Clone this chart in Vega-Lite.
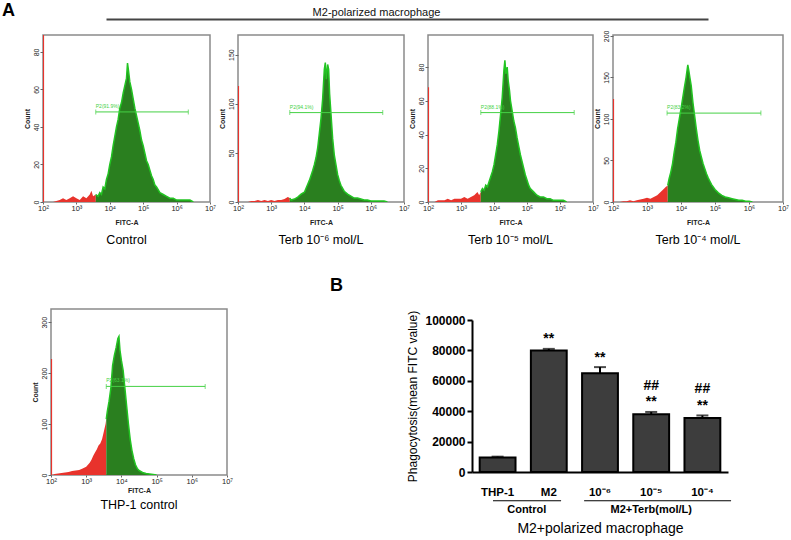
{
"$schema":"https://vega.github.io/schema/vega-lite/v6.json",
"background":"white",
"padding":{"left":2,"top":2,"right":0,"bottom":0},
"config":{"font":"Liberation Sans","view":{"stroke":null},"title":{"color":"#000"},"axis":{"labelColor":"#222","titleColor":"#222","labelOverlap":false},"area":{"opacity":1,"fillOpacity":1}},
"datasets":{
"hist":[
{"panel":"c","gate":"out","x":2.3,"n":0},{"panel":"c","gate":"out","x":2.5,"n":1},{"panel":"c","gate":"out","x":2.6,"n":2},{"panel":"c","gate":"out","x":2.7,"n":1},{"panel":"c","gate":"out","x":2.8,"n":2},{"panel":"c","gate":"out","x":2.9,"n":3},{"panel":"c","gate":"out","x":3.0,"n":2},{"panel":"c","gate":"out","x":3.1,"n":1},{"panel":"c","gate":"out","x":3.2,"n":3},{"panel":"c","gate":"out","x":3.3,"n":2},{"panel":"c","gate":"out","x":3.4,"n":4},{"panel":"c","gate":"out","x":3.45,"n":6},{"panel":"c","gate":"out","x":3.5,"n":3},{"panel":"c","gate":"out","x":3.58,"n":4},
{"panel":"c","gate":"in","x":3.58,"n":4},{"panel":"c","gate":"in","x":3.65,"n":3},{"panel":"c","gate":"in","x":3.7,"n":5},{"panel":"c","gate":"in","x":3.75,"n":4},{"panel":"c","gate":"in","x":3.8,"n":8},{"panel":"c","gate":"in","x":3.85,"n":7},{"panel":"c","gate":"in","x":3.9,"n":12},{"panel":"c","gate":"in","x":3.95,"n":15},{"panel":"c","gate":"in","x":4.0,"n":20},{"panel":"c","gate":"in","x":4.05,"n":24},{"panel":"c","gate":"in","x":4.1,"n":30},{"panel":"c","gate":"in","x":4.15,"n":35},{"panel":"c","gate":"in","x":4.2,"n":40},{"panel":"c","gate":"in","x":4.25,"n":44},{"panel":"c","gate":"in","x":4.3,"n":50},{"panel":"c","gate":"in","x":4.35,"n":53},{"panel":"c","gate":"in","x":4.4,"n":58},{"panel":"c","gate":"in","x":4.45,"n":62},{"panel":"c","gate":"in","x":4.5,"n":66},{"panel":"c","gate":"in","x":4.53,"n":74},{"panel":"c","gate":"in","x":4.56,"n":70},{"panel":"c","gate":"in","x":4.6,"n":64},{"panel":"c","gate":"in","x":4.65,"n":60},{"panel":"c","gate":"in","x":4.7,"n":55},{"panel":"c","gate":"in","x":4.75,"n":50},{"panel":"c","gate":"in","x":4.8,"n":46},{"panel":"c","gate":"in","x":4.85,"n":42},{"panel":"c","gate":"in","x":4.9,"n":38},{"panel":"c","gate":"in","x":4.95,"n":33},{"panel":"c","gate":"in","x":5.0,"n":30},{"panel":"c","gate":"in","x":5.05,"n":26},{"panel":"c","gate":"in","x":5.1,"n":22},{"panel":"c","gate":"in","x":5.15,"n":20},{"panel":"c","gate":"in","x":5.2,"n":17},{"panel":"c","gate":"in","x":5.25,"n":14},{"panel":"c","gate":"in","x":5.3,"n":12},{"panel":"c","gate":"in","x":5.35,"n":9},{"panel":"c","gate":"in","x":5.4,"n":8},{"panel":"c","gate":"in","x":5.5,"n":5},{"panel":"c","gate":"in","x":5.6,"n":4},{"panel":"c","gate":"in","x":5.7,"n":3},{"panel":"c","gate":"in","x":5.8,"n":2},{"panel":"c","gate":"in","x":5.9,"n":2},{"panel":"c","gate":"in","x":6.0,"n":1},{"panel":"c","gate":"in","x":6.2,"n":1},{"panel":"c","gate":"in","x":6.4,"n":1},{"panel":"c","gate":"in","x":6.5,"n":0},
{"panel":"t6","gate":"out","x":2.3,"n":0},{"panel":"t6","gate":"out","x":2.4,"n":1},{"panel":"t6","gate":"out","x":2.5,"n":1},{"panel":"t6","gate":"out","x":2.6,"n":2},{"panel":"t6","gate":"out","x":2.7,"n":1},{"panel":"t6","gate":"out","x":2.8,"n":2},{"panel":"t6","gate":"out","x":2.9,"n":1},{"panel":"t6","gate":"out","x":3.0,"n":2},{"panel":"t6","gate":"out","x":3.1,"n":1},{"panel":"t6","gate":"out","x":3.2,"n":2},{"panel":"t6","gate":"out","x":3.3,"n":2},{"panel":"t6","gate":"out","x":3.4,"n":3},{"panel":"t6","gate":"out","x":3.5,"n":5},{"panel":"t6","gate":"out","x":3.56,"n":4},
{"panel":"t6","gate":"in","x":3.56,"n":4},{"panel":"t6","gate":"in","x":3.6,"n":2},{"panel":"t6","gate":"in","x":3.7,"n":3},{"panel":"t6","gate":"in","x":3.8,"n":5},{"panel":"t6","gate":"in","x":3.9,"n":8},{"panel":"t6","gate":"in","x":4.0,"n":10},{"panel":"t6","gate":"in","x":4.05,"n":14},{"panel":"t6","gate":"in","x":4.1,"n":18},{"panel":"t6","gate":"in","x":4.15,"n":22},{"panel":"t6","gate":"in","x":4.2,"n":27},{"panel":"t6","gate":"in","x":4.25,"n":32},{"panel":"t6","gate":"in","x":4.3,"n":38},{"panel":"t6","gate":"in","x":4.35,"n":45},{"panel":"t6","gate":"in","x":4.4,"n":55},{"panel":"t6","gate":"in","x":4.45,"n":70},{"panel":"t6","gate":"in","x":4.5,"n":85},{"panel":"t6","gate":"in","x":4.55,"n":105},{"panel":"t6","gate":"in","x":4.6,"n":135},{"panel":"t6","gate":"in","x":4.63,"n":142},{"panel":"t6","gate":"in","x":4.66,"n":125},{"panel":"t6","gate":"in","x":4.7,"n":140},{"panel":"t6","gate":"in","x":4.73,"n":135},{"panel":"t6","gate":"in","x":4.76,"n":110},{"panel":"t6","gate":"in","x":4.8,"n":90},{"panel":"t6","gate":"in","x":4.85,"n":65},{"panel":"t6","gate":"in","x":4.9,"n":48},{"panel":"t6","gate":"in","x":4.95,"n":38},{"panel":"t6","gate":"in","x":5.0,"n":28},{"panel":"t6","gate":"in","x":5.05,"n":22},{"panel":"t6","gate":"in","x":5.1,"n":17},{"panel":"t6","gate":"in","x":5.2,"n":11},{"panel":"t6","gate":"in","x":5.3,"n":8},{"panel":"t6","gate":"in","x":5.4,"n":6},{"panel":"t6","gate":"in","x":5.5,"n":4},{"panel":"t6","gate":"in","x":5.6,"n":4},{"panel":"t6","gate":"in","x":5.7,"n":3},{"panel":"t6","gate":"in","x":5.8,"n":2},{"panel":"t6","gate":"in","x":5.9,"n":2},{"panel":"t6","gate":"in","x":6.0,"n":1},{"panel":"t6","gate":"in","x":6.2,"n":1},{"panel":"t6","gate":"in","x":6.4,"n":1},{"panel":"t6","gate":"in","x":6.5,"n":0},
{"panel":"t5","gate":"out","x":2.2,"n":0},{"panel":"t5","gate":"out","x":2.3,"n":1},{"panel":"t5","gate":"out","x":2.5,"n":1},{"panel":"t5","gate":"out","x":2.6,"n":2},{"panel":"t5","gate":"out","x":2.7,"n":1},{"panel":"t5","gate":"out","x":2.8,"n":2},{"panel":"t5","gate":"out","x":2.9,"n":2},{"panel":"t5","gate":"out","x":3.0,"n":2},{"panel":"t5","gate":"out","x":3.1,"n":3},{"panel":"t5","gate":"out","x":3.2,"n":2},{"panel":"t5","gate":"out","x":3.3,"n":3},{"panel":"t5","gate":"out","x":3.4,"n":4},{"panel":"t5","gate":"out","x":3.5,"n":6},{"panel":"t5","gate":"out","x":3.55,"n":4},{"panel":"t5","gate":"out","x":3.6,"n":6},
{"panel":"t5","gate":"in","x":3.6,"n":6},{"panel":"t5","gate":"in","x":3.65,"n":8},{"panel":"t5","gate":"in","x":3.7,"n":7},{"panel":"t5","gate":"in","x":3.75,"n":10},{"panel":"t5","gate":"in","x":3.8,"n":9},{"panel":"t5","gate":"in","x":3.85,"n":12},{"panel":"t5","gate":"in","x":3.9,"n":15},{"panel":"t5","gate":"in","x":3.95,"n":18},{"panel":"t5","gate":"in","x":4.0,"n":22},{"panel":"t5","gate":"in","x":4.05,"n":28},{"panel":"t5","gate":"in","x":4.1,"n":34},{"panel":"t5","gate":"in","x":4.15,"n":42},{"panel":"t5","gate":"in","x":4.2,"n":52},{"panel":"t5","gate":"in","x":4.25,"n":62},{"panel":"t5","gate":"in","x":4.3,"n":78},{"panel":"t5","gate":"in","x":4.33,"n":84},{"panel":"t5","gate":"in","x":4.36,"n":76},{"panel":"t5","gate":"in","x":4.4,"n":80},{"panel":"t5","gate":"in","x":4.43,"n":72},{"panel":"t5","gate":"in","x":4.47,"n":66},{"panel":"t5","gate":"in","x":4.5,"n":60},{"panel":"t5","gate":"in","x":4.55,"n":54},{"panel":"t5","gate":"in","x":4.6,"n":48},{"panel":"t5","gate":"in","x":4.65,"n":44},{"panel":"t5","gate":"in","x":4.7,"n":38},{"panel":"t5","gate":"in","x":4.75,"n":33},{"panel":"t5","gate":"in","x":4.8,"n":28},{"panel":"t5","gate":"in","x":4.85,"n":24},{"panel":"t5","gate":"in","x":4.9,"n":20},{"panel":"t5","gate":"in","x":4.95,"n":16},{"panel":"t5","gate":"in","x":5.0,"n":13},{"panel":"t5","gate":"in","x":5.05,"n":10},{"panel":"t5","gate":"in","x":5.1,"n":8},{"panel":"t5","gate":"in","x":5.2,"n":6},{"panel":"t5","gate":"in","x":5.3,"n":4},{"panel":"t5","gate":"in","x":5.4,"n":3},{"panel":"t5","gate":"in","x":5.5,"n":3},{"panel":"t5","gate":"in","x":5.6,"n":2},{"panel":"t5","gate":"in","x":5.7,"n":2},{"panel":"t5","gate":"in","x":5.8,"n":1},{"panel":"t5","gate":"in","x":5.9,"n":1},{"panel":"t5","gate":"in","x":6.0,"n":1},{"panel":"t5","gate":"in","x":6.1,"n":1},{"panel":"t5","gate":"in","x":6.2,"n":0},
{"panel":"t4","gate":"out","x":2.2,"n":0},{"panel":"t4","gate":"out","x":2.3,"n":1},{"panel":"t4","gate":"out","x":2.4,"n":1},{"panel":"t4","gate":"out","x":2.5,"n":2},{"panel":"t4","gate":"out","x":2.6,"n":1},{"panel":"t4","gate":"out","x":2.7,"n":2},{"panel":"t4","gate":"out","x":2.8,"n":3},{"panel":"t4","gate":"out","x":2.9,"n":4},{"panel":"t4","gate":"out","x":3.0,"n":5},{"panel":"t4","gate":"out","x":3.1,"n":4},{"panel":"t4","gate":"out","x":3.2,"n":6},{"panel":"t4","gate":"out","x":3.3,"n":8},{"panel":"t4","gate":"out","x":3.4,"n":12},{"panel":"t4","gate":"out","x":3.5,"n":16},{"panel":"t4","gate":"out","x":3.55,"n":18},{"panel":"t4","gate":"out","x":3.61,"n":20},
{"panel":"t4","gate":"in","x":3.61,"n":20},{"panel":"t4","gate":"in","x":3.65,"n":28},{"panel":"t4","gate":"in","x":3.7,"n":36},{"panel":"t4","gate":"in","x":3.75,"n":46},{"panel":"t4","gate":"in","x":3.8,"n":60},{"panel":"t4","gate":"in","x":3.85,"n":72},{"panel":"t4","gate":"in","x":3.9,"n":88},{"panel":"t4","gate":"in","x":3.95,"n":100},{"panel":"t4","gate":"in","x":4.0,"n":112},{"panel":"t4","gate":"in","x":4.05,"n":125},{"panel":"t4","gate":"in","x":4.1,"n":138},{"panel":"t4","gate":"in","x":4.15,"n":150},{"panel":"t4","gate":"in","x":4.2,"n":165},{"panel":"t4","gate":"in","x":4.23,"n":158},{"panel":"t4","gate":"in","x":4.26,"n":150},{"panel":"t4","gate":"in","x":4.3,"n":140},{"panel":"t4","gate":"in","x":4.35,"n":120},{"panel":"t4","gate":"in","x":4.4,"n":104},{"panel":"t4","gate":"in","x":4.45,"n":88},{"panel":"t4","gate":"in","x":4.5,"n":74},{"panel":"t4","gate":"in","x":4.55,"n":62},{"panel":"t4","gate":"in","x":4.6,"n":54},{"panel":"t4","gate":"in","x":4.65,"n":46},{"panel":"t4","gate":"in","x":4.7,"n":40},{"panel":"t4","gate":"in","x":4.75,"n":34},{"panel":"t4","gate":"in","x":4.8,"n":29},{"panel":"t4","gate":"in","x":4.85,"n":25},{"panel":"t4","gate":"in","x":4.9,"n":21},{"panel":"t4","gate":"in","x":5.0,"n":15},{"panel":"t4","gate":"in","x":5.1,"n":11},{"panel":"t4","gate":"in","x":5.2,"n":8},{"panel":"t4","gate":"in","x":5.3,"n":6},{"panel":"t4","gate":"in","x":5.4,"n":5},{"panel":"t4","gate":"in","x":5.5,"n":4},{"panel":"t4","gate":"in","x":5.6,"n":3},{"panel":"t4","gate":"in","x":5.7,"n":2},{"panel":"t4","gate":"in","x":5.8,"n":2},{"panel":"t4","gate":"in","x":5.9,"n":1},{"panel":"t4","gate":"in","x":6.0,"n":1},{"panel":"t4","gate":"in","x":6.1,"n":0},
{"panel":"thp","gate":"out","x":2.05,"n":0},{"panel":"thp","gate":"out","x":2.1,"n":2},{"panel":"thp","gate":"out","x":2.2,"n":3},{"panel":"thp","gate":"out","x":2.3,"n":4},{"panel":"thp","gate":"out","x":2.4,"n":5},{"panel":"thp","gate":"out","x":2.5,"n":6},{"panel":"thp","gate":"out","x":2.6,"n":8},{"panel":"thp","gate":"out","x":2.7,"n":9},{"panel":"thp","gate":"out","x":2.8,"n":10},{"panel":"thp","gate":"out","x":2.9,"n":13},{"panel":"thp","gate":"out","x":3.0,"n":16},{"panel":"thp","gate":"out","x":3.05,"n":20},{"panel":"thp","gate":"out","x":3.1,"n":24},{"panel":"thp","gate":"out","x":3.15,"n":30},{"panel":"thp","gate":"out","x":3.2,"n":38},{"panel":"thp","gate":"out","x":3.25,"n":44},{"panel":"thp","gate":"out","x":3.3,"n":50},{"panel":"thp","gate":"out","x":3.35,"n":58},{"panel":"thp","gate":"out","x":3.4,"n":62},{"panel":"thp","gate":"out","x":3.45,"n":70},{"panel":"thp","gate":"out","x":3.5,"n":85},{"panel":"thp","gate":"out","x":3.55,"n":100},{"panel":"thp","gate":"out","x":3.57,"n":110},
{"panel":"thp","gate":"in","x":3.57,"n":110},{"panel":"thp","gate":"in","x":3.6,"n":125},{"panel":"thp","gate":"in","x":3.65,"n":145},{"panel":"thp","gate":"in","x":3.7,"n":170},{"panel":"thp","gate":"in","x":3.75,"n":215},{"panel":"thp","gate":"in","x":3.8,"n":235},{"panel":"thp","gate":"in","x":3.85,"n":250},{"panel":"thp","gate":"in","x":3.9,"n":268},{"panel":"thp","gate":"in","x":3.93,"n":272},{"panel":"thp","gate":"in","x":3.96,"n":245},{"panel":"thp","gate":"in","x":4.0,"n":225},{"panel":"thp","gate":"in","x":4.05,"n":205},{"panel":"thp","gate":"in","x":4.1,"n":170},{"panel":"thp","gate":"in","x":4.15,"n":135},{"panel":"thp","gate":"in","x":4.2,"n":100},{"panel":"thp","gate":"in","x":4.25,"n":70},{"panel":"thp","gate":"in","x":4.3,"n":48},{"panel":"thp","gate":"in","x":4.35,"n":32},{"panel":"thp","gate":"in","x":4.4,"n":20},{"panel":"thp","gate":"in","x":4.45,"n":13},{"panel":"thp","gate":"in","x":4.5,"n":9},{"panel":"thp","gate":"in","x":4.6,"n":5},{"panel":"thp","gate":"in","x":4.7,"n":3},{"panel":"thp","gate":"in","x":4.8,"n":2},{"panel":"thp","gate":"in","x":4.9,"n":1},{"panel":"thp","gate":"in","x":5.0,"n":0}
],
"gates":[
{"panel":"c","x":3.58,"x_end":6.35,"n":48,"spike":89,"label":"P2(91.9%)"},
{"panel":"t6","x":3.56,"x_end":6.36,"n":91,"spike":118,"label":"P2(94.1%)"},
{"panel":"t5","x":3.6,"x_end":6.43,"n":53,"spike":68,"label":"P2(88.1%)"},
{"panel":"t4","x":3.59,"x_end":6.35,"n":107,"spike":124,"label":"P2(83.2%)"},
{"panel":"thp","x":3.57,"x_end":6.38,"n":174,"spike":228,"label":"P2(63.1%)"}
],
"bars":[
{"group":"THP-1","mean":9500,"upper":10100,"stars":"","hash":""},
{"group":"M2","mean":80000,"upper":81000,"stars":"**","hash":""},
{"group":"10⁻⁶","mean":65000,"upper":69000,"stars":"**","hash":""},
{"group":"10⁻⁵","mean":38000,"upper":39500,"stars":"**","hash":"##"},
{"group":"10⁻⁴","mean":35500,"upper":37200,"stars":"**","hash":"##"}
],
"groups":[
{"label":"Control","from":0.41,"to":1.74,"at":1.07},
{"label":"M2+Terb(mol/L)","from":2.19,"to":5.06,"at":3.5}
]
},
"spacing":290,"bounds":"flush",
"vconcat":[
{"spacing":16,"bounds":"flush","vconcat":[
 {"spacing":62,"bounds":"flush","hconcat":[
  {"width":1,"height":1,"data":{"values":[]},"mark":"rule","encoding":{},
   "title":{"text":"A","anchor":"start","orient":"top","dx":-41,"dy":1,"offset":0,"fontSize":18,"fontWeight":"bold","font":"Liberation Sans"}},
  {"width":602,"height":1,"data":{"values":[]},"mark":"rule",
   "encoding":{"x":{"field":"x","type":"quantitative","scale":{"domain":[0,1]},
     "axis":{"orient":"top","domain":true,"domainWidth":2,"domainColor":"#444","ticks":false,"labels":false,"grid":false,
       "title":"M2-polarized macrophage","titleFontSize":11,"titleFontWeight":"normal","titleColor":"#111","titlePadding":2,"titleX":270,"titleAlign":"center"}}}}
 ]},
 {"spacing":385,"bounds":"flush","hconcat":[
  {"spacing":28,"bounds":"flush","hconcat":[
   {"width":167,"height":167,"view":{"stroke":"#8a8a8a","strokeWidth":1.5},
    "title":{"text":"Control","orient":"bottom","fontSize":12.5,"fontWeight":"normal","offset":8},
    "encoding":{
     "x":{"field":"x","type":"quantitative","scale":{"domain":[2,7],"nice":false,"zero":false},
      "axis":{"values":[2,3,4,5,6,7],"labelExpr":"'10' + ['⁰','¹','²','³','⁴','⁵','⁶','⁷'][datum.value]","labelFontSize":7.5,"labelPadding":0,"tickSize":2,"tickColor":"#666","domain":false,"grid":false,"title":"FITC-A","titleFontSize":7,"titleFontWeight":"bold","titlePadding":7,"labelFlush":false,"labelOverlap":false,"labelBound":false}},
     "y":{"field":"n","type":"quantitative","scale":{"domain":[0,89],"nice":false},
      "axis":{"values":[0,20,40,60,80],"labelAngle":-90,"labelAlign":"center","labelBaseline":"bottom","labelFontSize":7,"labelPadding":1,"tickSize":3,"tickColor":"#666","domain":false,"grid":false,"title":"Count","titleFontSize":7,"titleFontWeight":"bold","titlePadding":2}}},
    "layer":[
     {"data":{"name":"hist"},"transform":[{"filter":"datum.panel==='c' && datum.gate==='out'"}],"mark":{"type":"area","color":"#e8332c","opacity":1,"clip":true}},
     {"data":{"name":"hist"},"transform":[{"filter":"datum.panel==='c' && datum.gate==='in'"}],"mark":{"type":"area","color":"#2a7f1f","opacity":1,"clip":true,"line":{"color":"#22c422","strokeWidth":1.5}}},
     {"data":{"name":"gates"},"transform":[{"filter":"datum.panel==='c'"}],"layer":[
      {"mark":{"type":"rule","color":"#e8332c","strokeWidth":1.5,"clip":true},"encoding":{"x":{"datum":2.01},"y":{"datum":0},"y2":{"field":"spike"}}},
      {"mark":{"type":"rule","color":"#45d145","strokeWidth":1},"encoding":{"x2":{"field":"x_end"}}},
      {"mark":{"type":"tick","color":"#45d145","orient":"vertical","size":5,"thickness":1}},
      {"mark":{"type":"tick","color":"#45d145","orient":"vertical","size":5,"thickness":1},"encoding":{"x":{"field":"x_end","type":"quantitative"}}},
      {"mark":{"type":"text","color":"#45d145","fontSize":5,"align":"left","baseline":"bottom","dy":-3},"encoding":{"text":{"field":"label"}}}
     ]}
    ]},
   {"width":166,"height":167,"view":{"stroke":"#8a8a8a","strokeWidth":1.5},
    "title":{"text":"Terb 10⁻⁶ mol/L","orient":"bottom","fontSize":12.5,"fontWeight":"normal","offset":8},
    "encoding":{
     "x":{"field":"x","type":"quantitative","scale":{"domain":[2,7],"nice":false,"zero":false},
      "axis":{"values":[2,3,4,5,6,7],"labelExpr":"'10' + ['⁰','¹','²','³','⁴','⁵','⁶','⁷'][datum.value]","labelFontSize":7.5,"labelPadding":0,"tickSize":2,"tickColor":"#666","domain":false,"grid":false,"title":"FITC-A","titleFontSize":7,"titleFontWeight":"bold","titlePadding":7,"labelFlush":false,"labelOverlap":false,"labelBound":false}},
     "y":{"field":"n","type":"quantitative","scale":{"domain":[0,170],"nice":false},
      "axis":{"values":[0,50,100,150],"labelAngle":-90,"labelAlign":"center","labelBaseline":"bottom","labelFontSize":7,"labelPadding":1,"tickSize":3,"tickColor":"#666","domain":false,"grid":false,"title":"Count","titleFontSize":7,"titleFontWeight":"bold","titlePadding":2}}},
    "layer":[
     {"data":{"name":"hist"},"transform":[{"filter":"datum.panel==='t6' && datum.gate==='out'"}],"mark":{"type":"area","color":"#e8332c","opacity":1,"clip":true}},
     {"data":{"name":"hist"},"transform":[{"filter":"datum.panel==='t6' && datum.gate==='in'"}],"mark":{"type":"area","color":"#2a7f1f","opacity":1,"clip":true,"line":{"color":"#22c422","strokeWidth":1.5}}},
     {"data":{"name":"gates"},"transform":[{"filter":"datum.panel==='t6'"}],"layer":[
      {"mark":{"type":"rule","color":"#e8332c","strokeWidth":1.5,"clip":true},"encoding":{"x":{"datum":2.01},"y":{"datum":0},"y2":{"field":"spike"}}},
      {"mark":{"type":"rule","color":"#45d145","strokeWidth":1},"encoding":{"x2":{"field":"x_end"}}},
      {"mark":{"type":"tick","color":"#45d145","orient":"vertical","size":5,"thickness":1}},
      {"mark":{"type":"tick","color":"#45d145","orient":"vertical","size":5,"thickness":1},"encoding":{"x":{"field":"x_end","type":"quantitative"}}},
      {"mark":{"type":"text","color":"#45d145","fontSize":5,"align":"left","baseline":"bottom","dy":-3},"encoding":{"text":{"field":"label"}}}
     ]}
    ]}
  ]},
  {"spacing":20,"bounds":"flush","hconcat":[
   {"width":165,"height":167,"view":{"stroke":"#8a8a8a","strokeWidth":1.5},
    "title":{"text":"Terb 10⁻⁵ mol/L","orient":"bottom","fontSize":12.5,"fontWeight":"normal","offset":8},
    "encoding":{
     "x":{"field":"x","type":"quantitative","scale":{"domain":[2,7],"nice":false,"zero":false},
      "axis":{"values":[2,3,4,5,6,7],"labelExpr":"'10' + ['⁰','¹','²','³','⁴','⁵','⁶','⁷'][datum.value]","labelFontSize":7.5,"labelPadding":0,"tickSize":2,"tickColor":"#666","domain":false,"grid":false,"title":"FITC-A","titleFontSize":7,"titleFontWeight":"bold","titlePadding":7,"labelFlush":false,"labelOverlap":false,"labelBound":false}},
     "y":{"field":"n","type":"quantitative","scale":{"domain":[0,99],"nice":false},
      "axis":{"values":[0,20,40,60,80],"labelAngle":-90,"labelAlign":"center","labelBaseline":"bottom","labelFontSize":7,"labelPadding":1,"tickSize":3,"tickColor":"#666","domain":false,"grid":false,"title":"Count","titleFontSize":7,"titleFontWeight":"bold","titlePadding":2}}},
    "layer":[
     {"data":{"name":"hist"},"transform":[{"filter":"datum.panel==='t5' && datum.gate==='out'"}],"mark":{"type":"area","color":"#e8332c","opacity":1,"clip":true}},
     {"data":{"name":"hist"},"transform":[{"filter":"datum.panel==='t5' && datum.gate==='in'"}],"mark":{"type":"area","color":"#2a7f1f","opacity":1,"clip":true,"line":{"color":"#22c422","strokeWidth":1.5}}},
     {"data":{"name":"gates"},"transform":[{"filter":"datum.panel==='t5'"}],"layer":[
      {"mark":{"type":"rule","color":"#e8332c","strokeWidth":1.5,"clip":true},"encoding":{"x":{"datum":2.01},"y":{"datum":0},"y2":{"field":"spike"}}},
      {"mark":{"type":"rule","color":"#45d145","strokeWidth":1},"encoding":{"x2":{"field":"x_end"}}},
      {"mark":{"type":"tick","color":"#45d145","orient":"vertical","size":5,"thickness":1}},
      {"mark":{"type":"tick","color":"#45d145","orient":"vertical","size":5,"thickness":1},"encoding":{"x":{"field":"x_end","type":"quantitative"}}},
      {"mark":{"type":"text","color":"#45d145","fontSize":5,"align":"left","baseline":"bottom","dy":-3},"encoding":{"text":{"field":"label"}}}
     ]}
    ]},
   {"width":170,"height":167,"view":{"stroke":"#8a8a8a","strokeWidth":1.5},
    "title":{"text":"Terb 10⁻⁴ mol/L","orient":"bottom","fontSize":12.5,"fontWeight":"normal","offset":8},
    "encoding":{
     "x":{"field":"x","type":"quantitative","scale":{"domain":[2,7],"nice":false,"zero":false},
      "axis":{"values":[2,3,4,5,6,7],"labelExpr":"'10' + ['⁰','¹','²','³','⁴','⁵','⁶','⁷'][datum.value]","labelFontSize":7.5,"labelPadding":0,"tickSize":2,"tickColor":"#666","domain":false,"grid":false,"title":"FITC-A","titleFontSize":7,"titleFontWeight":"bold","titlePadding":7,"labelFlush":false,"labelOverlap":false,"labelBound":false}},
     "y":{"field":"n","type":"quantitative","scale":{"domain":[0,201],"nice":false},
      "axis":{"values":[0,50,100,150,200],"labelAngle":-90,"labelAlign":"center","labelBaseline":"bottom","labelFontSize":7,"labelPadding":1,"tickSize":3,"tickColor":"#666","domain":false,"grid":false,"title":"Count","titleFontSize":7,"titleFontWeight":"bold","titlePadding":2}}},
    "layer":[
     {"data":{"name":"hist"},"transform":[{"filter":"datum.panel==='t4' && datum.gate==='out'"}],"mark":{"type":"area","color":"#e8332c","opacity":1,"clip":true}},
     {"data":{"name":"hist"},"transform":[{"filter":"datum.panel==='t4' && datum.gate==='in'"}],"mark":{"type":"area","color":"#2a7f1f","opacity":1,"clip":true,"line":{"color":"#22c422","strokeWidth":1.5}}},
     {"data":{"name":"gates"},"transform":[{"filter":"datum.panel==='t4'"}],"layer":[
      {"mark":{"type":"rule","color":"#e8332c","strokeWidth":1.5,"clip":true},"encoding":{"x":{"datum":2.01},"y":{"datum":0},"y2":{"field":"spike"}}},
      {"mark":{"type":"rule","color":"#45d145","strokeWidth":1},"encoding":{"x2":{"field":"x_end"}}},
      {"mark":{"type":"tick","color":"#45d145","orient":"vertical","size":5,"thickness":1}},
      {"mark":{"type":"tick","color":"#45d145","orient":"vertical","size":5,"thickness":1},"encoding":{"x":{"field":"x_end","type":"quantitative"}}},
      {"mark":{"type":"text","color":"#45d145","fontSize":5,"align":"left","baseline":"bottom","dy":-3},"encoding":{"text":{"field":"label"}}}
     ]}
    ]}
  ]}
 ]}
]},
{"spacing":429,"bounds":"flush","hconcat":[
 {"spacing":7,"bounds":"flush","hconcat":[
  {"width":1,"height":1,"data":{"values":[]},"mark":"rule","encoding":{}},
  {"width":176,"height":166,"view":{"stroke":"#8a8a8a","strokeWidth":1.5},
    "title":{"text":"THP-1 control","orient":"bottom","fontSize":12.5,"fontWeight":"normal","offset":5},
    "encoding":{
     "x":{"field":"x","type":"quantitative","scale":{"domain":[2,7],"nice":false,"zero":false},
      "axis":{"values":[2,3,4,5,6,7],"labelExpr":"'10' + ['⁰','¹','²','³','⁴','⁵','⁶','⁷'][datum.value]","labelFontSize":7.5,"labelPadding":0,"tickSize":2,"tickColor":"#666","domain":false,"grid":false,"title":"FITC-A","titleFontSize":7,"titleFontWeight":"bold","titlePadding":2,"labelFlush":false,"labelOverlap":false,"labelBound":false}},
     "y":{"field":"n","type":"quantitative","scale":{"domain":[0,326],"nice":false},
      "axis":{"values":[0,100,200,300],"labelAngle":-90,"labelAlign":"center","labelBaseline":"bottom","labelFontSize":7,"labelPadding":1,"tickSize":3,"tickColor":"#666","domain":false,"grid":false,"title":"Count","titleFontSize":7,"titleFontWeight":"bold","titlePadding":2}}},
    "layer":[
     {"data":{"name":"hist"},"transform":[{"filter":"datum.panel==='thp' && datum.gate==='out'"}],"mark":{"type":"area","color":"#e8332c","opacity":1,"clip":true}},
     {"data":{"name":"hist"},"transform":[{"filter":"datum.panel==='thp' && datum.gate==='in'"}],"mark":{"type":"area","color":"#2a7f1f","opacity":1,"clip":true,"line":{"color":"#22c422","strokeWidth":1.5}}},
     {"data":{"name":"gates"},"transform":[{"filter":"datum.panel==='thp'"}],"layer":[
      {"mark":{"type":"rule","color":"#e8332c","strokeWidth":1.5,"clip":true},"encoding":{"x":{"datum":2.01},"y":{"datum":0},"y2":{"field":"spike"}}},
      {"mark":{"type":"rule","color":"#45d145","strokeWidth":1},"encoding":{"x2":{"field":"x_end"}}},
      {"mark":{"type":"tick","color":"#45d145","orient":"vertical","size":5,"thickness":1}},
      {"mark":{"type":"tick","color":"#45d145","orient":"vertical","size":5,"thickness":1},"encoding":{"x":{"field":"x_end","type":"quantitative"}}},
      {"mark":{"type":"text","color":"#45d145","fontSize":5,"align":"left","baseline":"bottom","dy":-3},"encoding":{"text":{"field":"label"}}}
     ]}
    ]}
 ]},
 {"spacing":10,"bounds":"flush","vconcat":[
  {"width":1,"height":1,"data":{"values":[]},"mark":"rule","encoding":{},
   "title":{"text":"B","anchor":"start","orient":"top","dx":-142,"offset":14,"fontSize":18,"fontWeight":"bold","font":"Liberation Sans"}},
  {"width":256,"height":152,
   "layer":[
    {"data":{"name":"bars"},
     "encoding":{
      "x":{"field":"group","type":"nominal","sort":null,"scale":{"paddingInner":0.3,"paddingOuter":0.15},
       "axis":{"labelFontSize":11.5,"labelFontWeight":"bold","labelColor":"#000","labelPadding":14,"ticks":false,"domain":true,"domainWidth":2,"domainColor":"#000","labelAngle":0,"grid":false,"title":"M2+polarized macrophage","titleFontSize":14,"titleFontWeight":"normal","titleColor":"#000","titlePadding":24}},
      "y":{"field":"mean","type":"quantitative","scale":{"domain":[0,100000],"nice":false},
       "axis":{"values":[0,20000,40000,60000,80000,100000],"format":"d","labelFontSize":12,"labelFontWeight":"bold","labelColor":"#000","labelPadding":2,"labelOverlap":false,"labelBound":false,"labelFlush":false,"tickSize":5,"tickWidth":2,"tickColor":"#000","domain":true,"domainWidth":2,"domainColor":"#000","grid":false,"title":"Phagocytosis(mean FITC value)","titleFontSize":12,"titleFontWeight":"normal","titleColor":"#000","titlePadding":5}}},
     "layer":[
      {"mark":{"type":"bar","fill":"#3d3d3d","stroke":"#000","strokeWidth":2}},
      {"mark":{"type":"rule","color":"#000","strokeWidth":2},"encoding":{"y2":{"field":"upper"}}},
      {"mark":{"type":"tick","color":"#000","thickness":2,"size":12},"encoding":{"y":{"field":"upper","type":"quantitative"}}},
      {"mark":{"type":"text","fontSize":14,"fontWeight":"bold","baseline":"alphabetic","dy":-5.5},"encoding":{"y":{"field":"upper","type":"quantitative"},"text":{"field":"stars"}}},
      {"mark":{"type":"text","fontSize":14,"fontWeight":"bold","baseline":"alphabetic","dy":-22},"encoding":{"y":{"field":"upper","type":"quantitative"},"text":{"field":"hash"}}}
     ]},
    {"data":{"name":"groups"},
     "layer":[
      {"mark":{"type":"rule","color":"#000","strokeWidth":1.2},"encoding":{"x":{"field":"from","type":"quantitative","scale":{"domain":[0,5],"nice":false,"zero":false},"axis":null},"x2":{"field":"to"},"y":{"datum":-18900,"type":"quantitative","scale":{"domain":[0,100000],"nice":false,"zero":false},"axis":null}}},
      {"mark":{"type":"text","fontSize":11,"fontWeight":"bold","baseline":"middle"},"encoding":{"x":{"field":"at","type":"quantitative","scale":{"domain":[0,5],"nice":false,"zero":false},"axis":null},"y":{"datum":-24800,"type":"quantitative","scale":{"domain":[0,100000],"nice":false,"zero":false},"axis":null},"text":{"field":"label"}}}
     ]}
   ],
   "resolve":{"scale":{"x":"independent","y":"independent"}}}
 ]}
]}
]
}
